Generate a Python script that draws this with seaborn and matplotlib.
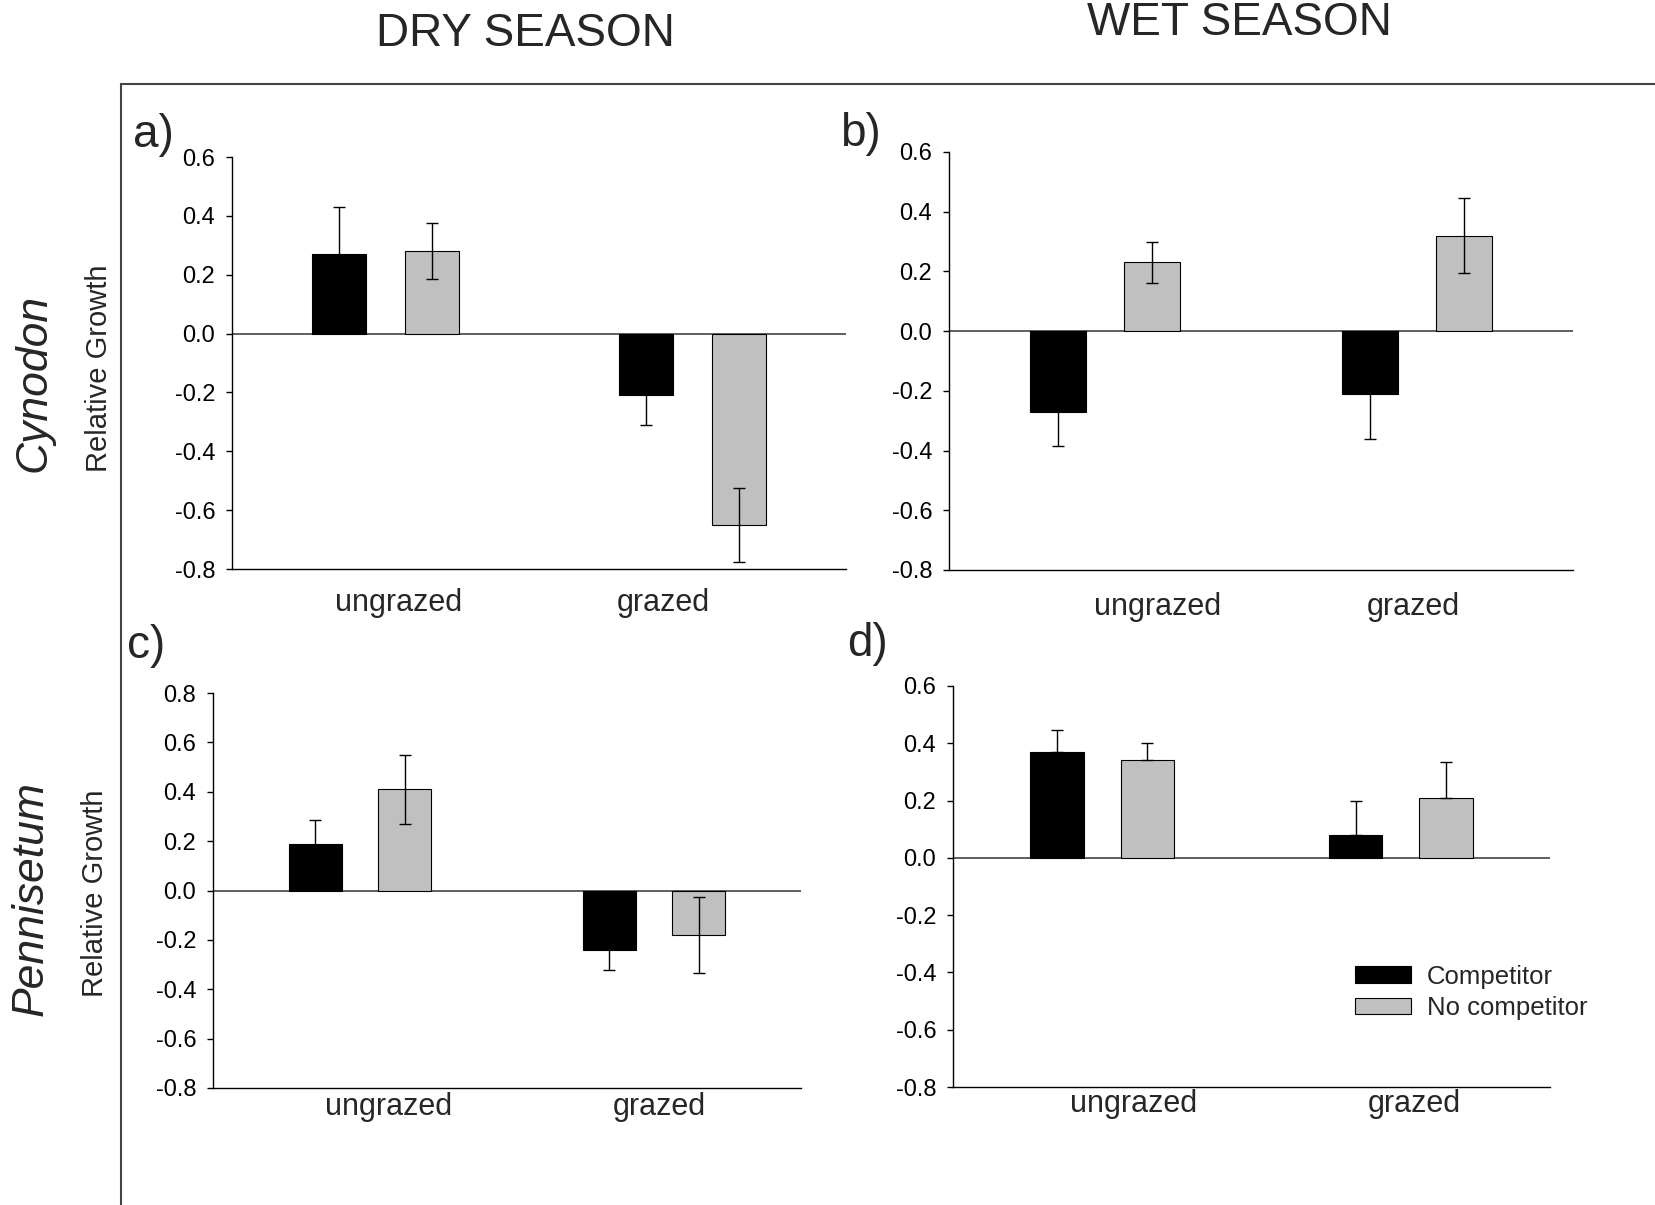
import pandas as pd
import seaborn as sns
import matplotlib.pyplot as plt
from matplotlib.lines import Line2D
from matplotlib.transforms import ScaledTranslation

# categories and series
grazing = ["ungrazed", "grazed"]
competition = ["Competitor", "No competitor"]
bar_colors = ["black", "#c0c0c0"]

# a) Cynodon, dry season
a_comp = [0.27, -0.21]
a_comp_se = [0.16, 0.10]
a_nocomp = [0.28, -0.65]
a_nocomp_se = [0.095, 0.125]

# b) Cynodon, wet season
b_comp = [-0.27, -0.21]
b_comp_se = [0.115, 0.15]
b_nocomp = [0.23, 0.32]
b_nocomp_se = [0.07, 0.125]

# c) Pennisetum, dry season
c_comp = [0.19, -0.24]
c_comp_se = [0.095, 0.08]
c_nocomp = [0.41, -0.18]
c_nocomp_se = [0.14, 0.155]

# d) Pennisetum, wet season (only upper error bars shown)
d_comp = [0.37, 0.08]
d_comp_se = [0.075, 0.12]
d_nocomp = [0.34, 0.21]
d_nocomp_se = [0.06, 0.125]

yticks_06 = [0.6, 0.4, 0.2, 0.0, -0.2, -0.4, -0.6, -0.8]
yticks_08 = [0.8, 0.6, 0.4, 0.2, 0.0, -0.2, -0.4, -0.6, -0.8]

W, H = 1656, 1205
sns.set_style("white")
plt.rcParams['font.family'] = ['Liberation Sans', 'DejaVu Sans']
plt.rcParams['axes.unicode_minus'] = False

fig = plt.figure(figsize=(W / 100, H / 100), dpi=100)


def px_rect(l, t, r, b):
    return [l / W, 1 - b / H, (r - l) / W, (b - t) / H]


panels = [
    dict(tag="a)", rect=px_rect(232, 157, 846, 569), vals=(a_comp, a_nocomp),
         ses=(a_comp_se, a_nocomp_se), ticks=yticks_06, pad=14, dx=(13, -29),
         upper_only=False, tagpos=(153, 135)),
    dict(tag="b)", rect=px_rect(949, 152, 1573, 570), vals=(b_comp, b_nocomp),
         ses=(b_comp_se, b_nocomp_se), ticks=yticks_06, pad=15.5, dx=(53, -4),
         upper_only=False, tagpos=(860, 134)),
    dict(tag="c)", rect=px_rect(213, 693, 801, 1088), vals=(c_comp, c_nocomp),
         ses=(c_comp_se, c_nocomp_se), ticks=yticks_08, pad=3, dx=(29, 5),
         upper_only=False, tagpos=(146, 646)),
    dict(tag="d)", rect=px_rect(953, 686, 1550, 1087), vals=(d_comp, d_nocomp),
         ses=(d_comp_se, d_nocomp_se), ticks=yticks_06, pad=1.5, dx=(31, 14),
         upper_only=True, tagpos=(868, 644)),
]

for p in panels:
    ax = fig.add_axes(p["rect"])
    df = pd.DataFrame({
        "grazing": grazing * 2,
        "competition": [competition[0]] * 2 + [competition[1]] * 2,
        "growth": list(p["vals"][0]) + list(p["vals"][1]),
    })
    sns.barplot(data=df, x="grazing", y="growth", hue="competition",
                order=grazing, hue_order=competition,
                palette=dict(zip(competition, bar_colors)),
                width=0.606, gap=0.41, edgecolor="black", linewidth=0.8,
                errorbar=None, legend=(p["tag"] == "d)"), ax=ax, zorder=2)

    # error bars centred on the bars seaborn drew
    for cont, se in zip(ax.containers, p["ses"]):
        for bar, e in zip(cont, se):
            x = bar.get_x() + bar.get_width() / 2
            y = bar.get_y() + bar.get_height()
            lo = 0 if p["upper_only"] else e
            ax.errorbar(x, y, yerr=[[lo], [e]], fmt="none", ecolor="black",
                        elinewidth=1, capsize=4.5, capthick=1, zorder=3)

    ax.axhline(0, color="#444444", lw=1.2, zorder=1)
    ax.set_xlim(-0.5, 1.5)
    ax.set_ylim(min(p["ticks"]), max(p["ticks"]))
    ax.set_yticks(p["ticks"])
    ax.set_yticklabels([f"{t:.1f}" for t in p["ticks"]], fontsize=17)
    ax.set_xlabel("")
    ax.set_ylabel("")
    sns.despine(ax=ax)
    for s in ("left", "bottom"):
        ax.spines[s].set_color("black")
        ax.spines[s].set_linewidth(1)
    ax.tick_params(axis="y", direction="out", length=4, width=1, pad=8,
                   left=True, colors="black")
    ax.tick_params(axis="x", length=0, pad=p["pad"], labelsize=22)
    for lab, dx in zip(ax.get_xticklabels(), p["dx"]):
        lab.set_transform(lab.get_transform()
                          + ScaledTranslation(dx / 100, 0, fig.dpi_scale_trans))

    if p["tag"] == "d)":
        sns.move_legend(ax, loc="center left", bbox_to_anchor=(0.673, 0.236),
                        title=None, frameon=False, fontsize=18.5,
                        handlelength=2.2, handleheight=0.6, handletextpad=0.6,
                        labelspacing=0.3, borderpad=0, borderaxespad=0)

    tx, ty = p["tagpos"]
    fig.text(tx / W, 1 - ty / H, p["tag"], fontsize=33, ha="center", va="center")

# column titles
fig.text(525 / W, 1 - 34 / H, "DRY SEASON", fontsize=33, ha="center", va="center")
fig.text(1239 / W, 1 - 23 / H, "WET SEASON", fontsize=33, ha="center", va="center")

# row labels
fig.text(34 / W, 1 - 383 / H, "Cynodon", fontsize=32, style="italic",
         rotation=90, ha="center", va="center")
fig.text(31 / W, 1 - 898 / H, "Pennisetum", fontsize=32, style="italic",
         rotation=90, ha="center", va="center")
fig.text(99 / W, 1 - 368 / H, "Relative Growth", fontsize=21,
         rotation=90, ha="center", va="center")
fig.text(95 / W, 1 - 893 / H, "Relative Growth", fontsize=21,
         rotation=90, ha="center", va="center")

# outer frame (left and top edge)
fig.add_artist(Line2D([121 / W, 121 / W], [0, 1 - 84 / H], color="#444444",
                      lw=1.5, transform=fig.transFigure))
fig.add_artist(Line2D([121 / W, 1], [1 - 84 / H, 1 - 84 / H], color="#444444",
                      lw=1.5, transform=fig.transFigure))

fig.savefig("out.png", dpi=100)
